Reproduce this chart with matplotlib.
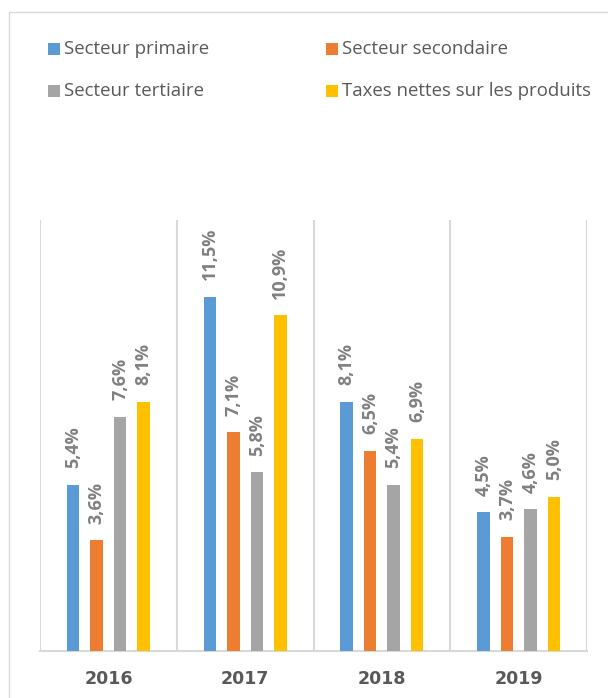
import matplotlib
matplotlib.use("Agg")
import matplotlib.pyplot as plt
from matplotlib.patches import Rectangle
import numpy as np

years = ["2016", "2017", "2018", "2019"]
series = ["Secteur primaire", "Secteur secondaire", "Secteur tertiaire", "Taxes nettes sur les produits"]
primaire = [5.4, 11.5, 8.1, 4.5]
secondaire = [3.6, 7.1, 6.5, 3.7]
tertiaire = [7.6, 5.8, 5.4, 4.6]
taxes = [8.1, 10.9, 6.9, 5.0]
values = [primaire, secondaire, tertiaire, taxes]
colors = ["#5b9bd5", "#ed7d31", "#a5a5a5", "#ffc000"]

W, H = 608, 698
fig = plt.figure(figsize=(W / 100, H / 100), dpi=100)
fig.patch.set_facecolor("white")

# outer border
fig.add_artist(Rectangle((8.5 / W, 0 - 0.01), 1.1, 1 - 11.5 / H + 0.01, transform=fig.transFigure,
                         fill=False, edgecolor="#d9d9d9", linewidth=1.0))

ax = fig.add_axes([40 / W, 1 - 651 / H, (587 - 40) / W, (651 - 220) / H])
x = np.arange(len(years))
spacing = 0.1715
bw = 0.091
for i, (vals, c) in enumerate(zip(values, colors)):
    pos = x + (i - 1.5) * spacing
    bars = ax.bar(pos, vals, width=bw, color=c, zorder=3)
    for b, v in zip(bars, vals):
        ax.annotate(f"{v:.1f}%".replace(".", ","), (b.get_x() + b.get_width() / 2, v),
                    xytext=(0, 12), textcoords="offset points", rotation=90,
                    ha="center", va="bottom", fontsize=13, fontweight="bold",
                    color="#808080", family="Open Sans")

ax.set_xlim(-0.5, 3.5)
ax.set_ylim(0, 14)
ax.set_yticks([])
for s in ["top", "left", "right"]:
    ax.spines[s].set_visible(False)
ax.spines["bottom"].set_color("#d9d9d9")
ax.spines["bottom"].set_linewidth(1.5)
ax.set_xticks(x)
ax.set_xticklabels(years, fontsize=12.5, fontweight="bold", color="#595959", family="DejaVu Sans")
ax.tick_params(axis="x", length=0, pad=14)
ax.set_xticks(np.arange(-0.5, 4, 1.0), minor=True)
ax.tick_params(axis="x", which="minor", length=0)
ax.grid(True, axis="x", which="minor", color="#d9d9d9", linewidth=1.5, zorder=0)
ax.grid(False, axis="x", which="major")

# legend
leg_pos = [(48, 49), (326, 49), (48, 91), (326, 91)]
for name, c, (lx, ly) in zip(series, colors, leg_pos):
    fig.add_artist(Rectangle((lx / W, 1 - (ly + 6) / H), 12 / W, 12 / H, transform=fig.transFigure,
                             facecolor=c, edgecolor="none"))
    fig.text((lx + 16) / W, 1 - ly / H, name, fontsize=13.4, color="#595959",
             family="Open Sans", va="center", ha="left")

fig.savefig("out.png", dpi=100, facecolor="white")
